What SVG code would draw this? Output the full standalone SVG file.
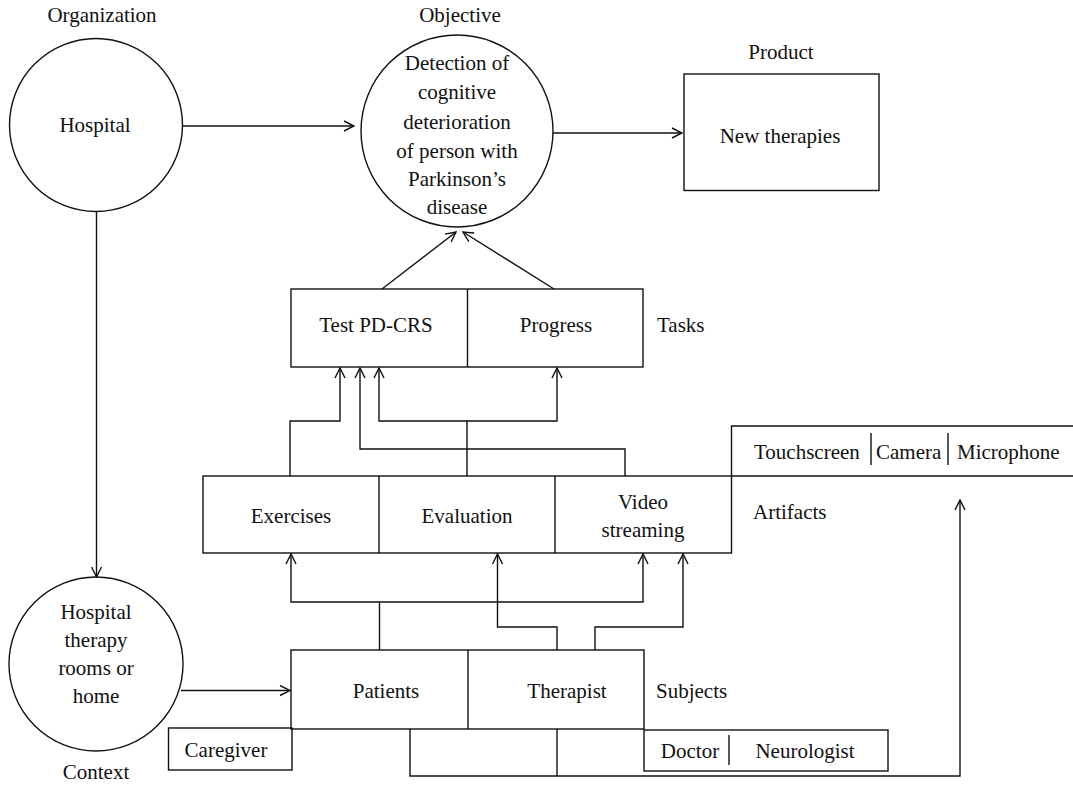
<svg xmlns="http://www.w3.org/2000/svg" width="1073" height="788" viewBox="0 0 1073 788">
<style>
text{font-family:"Liberation Serif","Times New Roman",serif;font-size:21px;fill:#111;text-anchor:middle}
.s{fill:none;stroke:#111;stroke-width:1.4}
.l{text-anchor:start}
</style>
<defs>
<marker id="ah" viewBox="0 0 12 12" refX="11" refY="6" markerWidth="12" markerHeight="12" markerUnits="userSpaceOnUse" orient="auto">
<path d="M1,1 L11,6 L1,11" fill="none" stroke="#111" stroke-width="1.4"/>
</marker>
</defs>
<rect width="1073" height="788" fill="#fff"/>
<g id="hospital">
<circle class="s" cx="96" cy="125" r="86.5"/>
<text x="95" y="132">Hospital</text>
<text x="102" y="22">Organization</text>
</g>
<g id="objective">
<circle class="s" cx="457" cy="131" r="96"/>
<text x="460" y="22">Objective</text>
<text x="457" y="70">Detection of</text>
<text x="457" y="99">cognitive</text>
<text x="457" y="129">deterioration</text>
<text x="457" y="158">of person with</text>
<text x="457" y="186">Parkinson’s</text>
<text x="457" y="214">disease</text>
</g>
<g id="product">
<rect class="s" x="684" y="74" width="195" height="116.5"/>
<text x="781" y="59">Product</text>
<text x="780" y="143">New therapies</text>
</g>
<g id="tasks">
<rect class="s" x="291" y="289" width="352" height="78"/>
<line class="s" x1="467.5" y1="289" x2="467.5" y2="367"/>
<text x="376" y="332">Test PD-CRS</text>
<text x="556" y="332">Progress</text>
<text class="l" x="657" y="332">Tasks</text>
</g>
<g id="artifacts">
<rect class="s" x="203" y="476" width="528.5" height="77"/>
<line class="s" x1="379" y1="476" x2="379" y2="553"/>
<line class="s" x1="555" y1="476" x2="555" y2="553"/>
<text x="291" y="523">Exercises</text>
<text x="467" y="523">Evaluation</text>
<text x="643" y="509">Video</text>
<text x="643" y="537">streaming</text>
<text class="l" x="753" y="519">Artifacts</text>
</g>
<g id="devices">
<path class="s" d="M1075,426 H731.5 V476 H1075"/>
<line class="s" x1="871" y1="433" x2="871" y2="465"/>
<line class="s" x1="948" y1="433" x2="948" y2="465"/>
<text class="l" x="754" y="459">Touchscreen</text>
<text class="l" x="876" y="459">Camera</text>
<text class="l" x="957" y="459">Microphone</text>
</g>
<g id="context">
<circle class="s" cx="96" cy="664" r="87"/>
<text x="96" y="619">Hospital</text>
<text x="96" y="647">therapy</text>
<text x="96" y="675">rooms or</text>
<text x="96" y="703">home</text>
<text x="96" y="779">Context</text>
</g>
<g id="subjects">
<rect class="s" x="291" y="650" width="353" height="79"/>
<line class="s" x1="468" y1="650" x2="468" y2="729"/>
<text x="386" y="698">Patients</text>
<text x="567" y="698">Therapist</text>
<text class="l" x="656" y="698">Subjects</text>
</g>
<g id="caregiver">
<rect class="s" x="168.5" y="728" width="123.5" height="42"/>
<text x="226" y="757">Caregiver</text>
</g>
<g id="doctor">
<rect class="s" x="644" y="730" width="244" height="41"/>
<line class="s" x1="729" y1="735" x2="729" y2="765"/>
<text x="690" y="758">Doctor</text>
<text x="805" y="758">Neurologist</text>
</g>
<g id="connectors">
<line class="s" x1="183" y1="126" x2="354" y2="126" marker-end="url(#ah)"/>
<line class="s" x1="553" y1="133" x2="682" y2="133" marker-end="url(#ah)"/>
<line class="s" x1="96.5" y1="212" x2="96.5" y2="577" marker-end="url(#ah)"/>
<line class="s" x1="181" y1="690.5" x2="290" y2="690.5" marker-end="url(#ah)"/>
<line class="s" x1="382" y1="289" x2="456" y2="232" marker-end="url(#ah)"/>
<line class="s" x1="554" y1="289" x2="463" y2="232" marker-end="url(#ah)"/>
<path class="s" d="M290,476 V421 H340 V368" marker-end="url(#ah)"/>
<path class="s" d="M625,476 V449 H360 V368" marker-end="url(#ah)"/>
<path class="s" d="M467,476 V421 H379 V368" marker-end="url(#ah)"/>
<path class="s" d="M467,421 H557 V368" marker-end="url(#ah)"/>
<path class="s" d="M379.5,650 V602 H291 V554" marker-end="url(#ah)"/>
<path class="s" d="M379.5,602 H643 V554" marker-end="url(#ah)"/>
<path class="s" d="M557,650 V627 H497.5 V554" marker-end="url(#ah)"/>
<path class="s" d="M595,650 V627 H683 V554" marker-end="url(#ah)"/>
<path class="s" d="M410,729 V776 H960 V500" marker-end="url(#ah)"/>
<line class="s" x1="557" y1="729" x2="557" y2="776"/>
</g>
</svg>
